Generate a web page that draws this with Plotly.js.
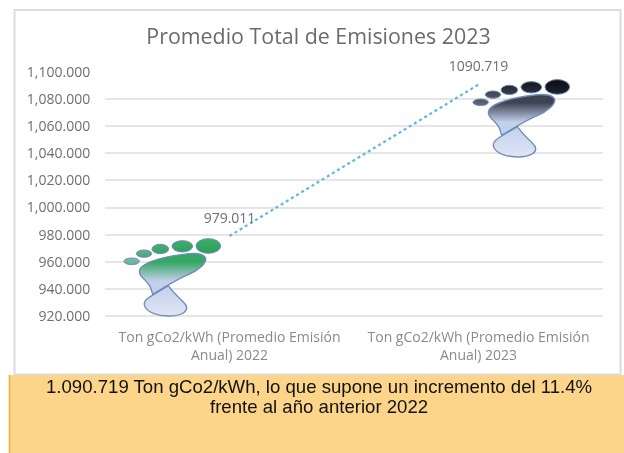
<!DOCTYPE html>
<html><head><meta charset="utf-8">
<script src="https://cdn.plot.ly/plotly-3.0.1.min.js"></script>
<style>html,body{margin:0;padding:0;background:#fff;overflow:hidden}#c{width:624px;height:453px;filter:blur(0.35px)}</style>
</head><body><div id="c"></div>
<script>
const categories = ["Ton gCo2/kWh (Promedio Emisión<br>Anual) 2022", "Ton gCo2/kWh (Promedio Emisión<br>Anual) 2023"];
const values = [979.011, 1090.719];
const valueLabels = ["979.011", "1090.719"];
const yTicks = [920,940,960,980,1000,1020,1040,1060,1080,1100];
const yTickLabels = ["920.000","940.000","960.000","980.000","1,000.000","1,020.000","1,040.000","1,060.000","1,080.000","1,100.000"];
const titleText = "Promedio Total de Emisiones 2023";
const noteLines = ["1.090.719 Ton gCo2/kWh, lo que supone un incremento del 11.4%","frente al año anterior 2022"];

const W=624,H=453,L=105,R=21,T=72,B=137;
const pw=W-L-R, ph=H-T-B;
const px=x=>(x-L)/pw, py=y=>1-(y-T)/ph;
const valToPaper=v=>(v-920)/180, catToPaper=i=>(i+0.5)/2;

function footSvg(top,bot,toes,stroke){
  const e=(cx,cy,rx,ry,i)=>`<ellipse cx="${cx}" cy="${cy}" rx="${rx}" ry="${ry}" fill="url(#t${i})" stroke="${stroke}" stroke-width="3"/>`;
  const tg=(i,c)=>`<linearGradient id="t${i}" x1="0" y1="0" x2="0" y2="1"><stop offset="0" stop-color="${c[0]}"/><stop offset="1" stop-color="${c[1]}"/></linearGradient>`;
  return 'data:image/svg+xml;charset=utf-8,'+encodeURIComponent(
  `<svg xmlns="http://www.w3.org/2000/svg" width="330" height="270" viewBox="60 100 330 270">
  <defs>
  <linearGradient id="b" x1="0" y1="0" x2="0" y2="1"><stop offset="0" stop-color="${top}"/><stop offset="0.2" stop-color="${top}"/><stop offset="0.68" stop-color="${bot}"/><stop offset="1" stop-color="${bot}"/></linearGradient>
  <linearGradient id="h" x1="0" y1="0" x2="0" y2="1"><stop offset="0" stop-color="#c3d0ec"/><stop offset="1" stop-color="#dfe6f4"/></linearGradient>
  ${toes.map((c,i)=>tg(i,c)).join('')}
  </defs>
  <path d="M158 283 C152 262 150 255 135 240 C120 228 114 215 122 204 C135 186 190 170 250 163 C285 158 312 162 317 175 C320 190 295 212 265 224 C225 240 195 262 158 283 Z" fill="url(#b)" stroke="${stroke}" stroke-width="4"/>
  <path d="M205 257 C218 275 235 292 250 306 C263 318 264 330 250 339 C228 352 185 350 160 340 C135 330 125 312 140 298 C150 288 185 270 205 257 Z" fill="url(#h)" stroke="${stroke}" stroke-width="4"/>
  ${e(325,138,37,22,0)}${e(247,139,31,17,1)}${e(181,147,25,14,2)}${e(132,161,23,11,3)}${e(95,184,23,10,4)}
  </svg>`);
}
const greenToes=[["#3aae66","#2b9f5b"],["#3fae6b","#2f9f63"],["#46ad73","#3a9f6a"],["#5fb08c","#4ea383"],["#7fbda5","#66ae98"]];
const darkToes=[["#0b0d14","#1d2230"],["#14171f","#2a2e3d"],["#23262f","#3b4050"],["#3c404d","#545a6b"],["#4f5464","#656b7e"]];
const feet=[
  {src:footSvg("#35a663","#c3cfeb",greenToes,"#6f8db5"), dx:-109.5, dy:-2.7},
  {src:footSvg("#3e4353","#c3d0ec",darkToes,"#6f8db5"), dx:-9.5, dy:-10.3}
];

const trace={
  type:'scatter',mode:'lines+markers+text',
  x:categories,y:values,text:valueLabels,textposition:'top center',cliponaxis:false,
  marker:{size:14,color:'rgba(0,0,0,0)'},
  textfont:{family:'"Open Sans",sans-serif',size:14,color:'#6f6f6f'},
  line:{color:'#5cb8e0',width:2.2,dash:'dot'},hoverinfo:'skip'
};
const layout={
  width:W,height:H,margin:{l:L,r:R,t:T,b:B,pad:0},
  paper_bgcolor:'#ffffff',plot_bgcolor:'rgba(0,0,0,0)',showlegend:false,
  font:{family:'"Open Sans",sans-serif',color:'#7a7a7a'},
  title:{text:titleText,font:{family:'"Open Sans",sans-serif',size:21.4,color:'#6b6b6b'},x:318.5/W,xanchor:'center',y:1-37/H,yanchor:'middle'},
  xaxis:{type:'category',categories:categories,range:[-0.5,1.5],showgrid:false,zeroline:false,showline:false,ticks:'',ticklabelstandoff:11,
    tickfont:{size:14,color:'#8a8a8a'},tickangle:0,automargin:false},
  yaxis:{range:[920,1100],tickmode:'array',tickvals:yTicks,ticktext:yTickLabels,showgrid:true,gridcolor:'#e6e6e6',gridwidth:2,
    zeroline:false,showline:false,ticks:'outside',ticklen:11,tickcolor:'rgba(0,0,0,0)',tickfont:{size:14,color:'#6f6f6f'},automargin:false},
  shapes:[
    {type:'rect',xref:'paper',yref:'paper',x0:px(14.5),x1:px(620.5),y0:py(374.5),y1:py(10),layer:'below',line:{color:'#dcdcdc',width:2},fillcolor:'#ffffff'},
    {type:'rect',xref:'paper',yref:'paper',x0:px(9.5),x1:px(626),y0:py(455),y1:py(375),layer:'above',line:{width:0},fillcolor:'#fdd58a'},
    {type:'line',xref:'paper',yref:'paper',x0:px(9.5),x1:px(9.5),y0:py(453),y1:py(375),layer:'above',line:{color:'#f5ae2e',width:1.5}},
    {type:'line',xref:'paper',yref:'paper',x0:0,x1:1,y0:0,y1:0,layer:'below',line:{color:'#e6e6e6',width:2}}
  ],
  images:feet.map((f,i)=>({source:f.src,xref:'paper',yref:'paper',x:catToPaper(i)+f.dx/pw,y:valToPaper(values[i])-f.dy/ph,
    sizex:110/pw,sizey:90/ph,sizing:'stretch',xanchor:'left',yanchor:'top',layer:'above'})),
  annotations:noteLines.map((t,i)=>({xref:'paper',yref:'paper',x:px(318.5),y:py(386+i*20),xanchor:'center',yanchor:'middle',showarrow:false,align:'center',
    text:t,font:{family:'"Liberation Sans",Arial,sans-serif',size:18.6,color:'#111111'}}))
};
Plotly.newPlot('c',[trace],layout,{displayModeBar:false,staticPlot:true});
</script></body></html>
